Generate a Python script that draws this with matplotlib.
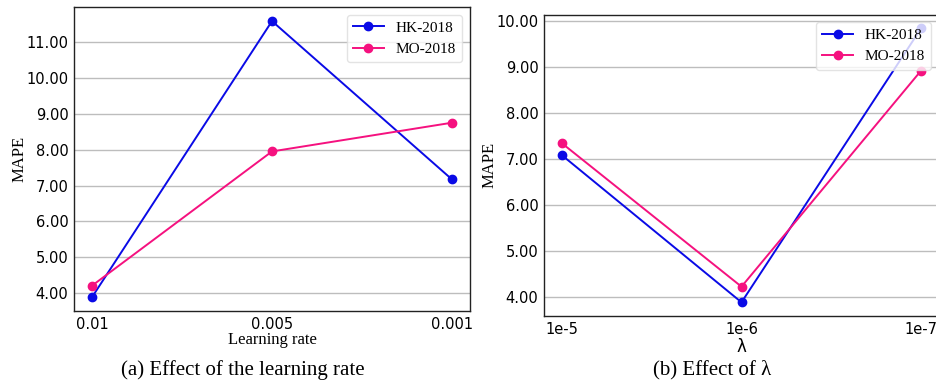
import matplotlib
matplotlib.use("Agg")
import matplotlib.pyplot as plt

# data
lr_labels = ["0.01", "0.005", "0.001"]
lr_hk = [3.89, 11.58, 7.17]
lr_mo = [4.21, 7.95, 8.75]

lam_labels = ["1e-5", "1e-6", "1e-7"]
lam_hk = [7.08, 3.88, 9.84]
lam_mo = [7.34, 4.22, 8.92]

HK_COLOR = "#0a0ae6"
MO_COLOR = "#f5117f"
SERIF = "Liberation Serif"
W, H = 936, 385

fig = plt.figure(figsize=(W / 100, H / 100), dpi=100)


def style_axes(ax):
    ax.grid(axis="y", color="#bdbdbd", linewidth=1.0, zorder=0)
    ax.set_axisbelow(True)
    ax.tick_params(length=0, pad=4, labelsize=10.5)
    for sp in ax.spines.values():
        sp.set_color("#222222")
        sp.set_linewidth(1.0)
    ax.yaxis.set_major_formatter(matplotlib.ticker.FormatStrFormatter("%.2f"))
    ax.set_ylabel("MAPE", family=SERIF, fontsize=12, labelpad=-1)
    leg = ax.legend(loc="upper right", prop={"family": SERIF, "size": 11},
                    framealpha=0.8, edgecolor="#dddddd", handlelength=2.0)
    return leg


def panel(rect, labels, hk, mo):
    ax = fig.add_axes(rect)
    x = list(range(len(labels)))
    ax.plot(x, hk, color=HK_COLOR, marker="o", markersize=6, linewidth=1.4, label="HK-2018", zorder=3)
    ax.plot(x, mo, color=MO_COLOR, marker="o", markersize=6, linewidth=1.4, label="MO-2018", zorder=3)
    ax.set_xticks(x)
    ax.set_xticklabels(labels)
    return ax


ax1 = panel([74 / W, (H - 311) / H, (470 - 74) / W, (311 - 7.3) / H], lr_labels, lr_hk, lr_mo)
ax1.set_yticks([4, 5, 6, 7, 8, 9, 10, 11])
style_axes(ax1)
ax1.set_xlabel("Learning rate", family=SERIF, fontsize=12, labelpad=0)

ax2 = panel([544 / W, (H - 316) / H, (939 - 544) / W, (316 - 14.7) / H], lam_labels, lam_hk, lam_mo)
ax2.set_yticks([4, 5, 6, 7, 8, 9, 10])
style_axes(ax2)
ax2.set_xlabel("λ", family="DejaVu Sans", fontsize=12, labelpad=1)

fig.text(243 / W, 1 - 370 / H, "(a) Effect of the learning rate", family=SERIF,
         fontsize=15, ha="center", va="center")
fig.text(712 / W, 1 - 370 / H, "(b) Effect of λ", family=SERIF,
         fontsize=15, ha="center", va="center")

fig.savefig("out.png", dpi=100)
